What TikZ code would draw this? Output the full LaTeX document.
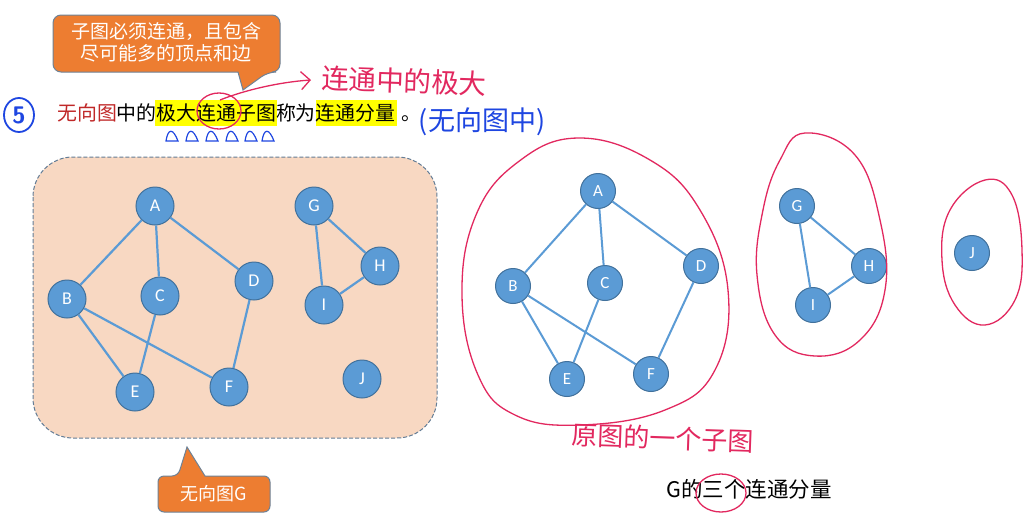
\documentclass[tikz,border=0pt]{standalone}
\usepackage{fontspec}
\setmainfont{Carlito}
\newfontfamily\cjk{Noto Sans CJK SC}
\usetikzlibrary{arrows.meta,shapes.geometric}
\definecolor{nodefill}{RGB}{91,155,213}
\definecolor{nodeline}{RGB}{65,113,156}
\definecolor{peach}{RGB}{248,216,194}
\definecolor{boxline}{RGB}{100,125,150}
\definecolor{orangeC}{RGB}{237,125,49}
\definecolor{calloutline}{RGB}{110,130,150}
\definecolor{penred}{RGB}{226,40,95}
\definecolor{penblue}{RGB}{30,70,225}
\definecolor{darkred}{RGB}{192,40,40}
\definecolor{hl}{RGB}{255,255,0}
\tikzset{
  vtx/.style={circle, fill=nodefill, draw=nodeline, line width=1pt, minimum size=38pt, inner sep=0pt, text=white, font=\fontsize{18}{18}\selectfont},
  vtxs/.style={vtx, minimum size=35pt, font=\fontsize{17}{17}\selectfont},
  gedge/.style={draw=nodefill, line width=2.2pt},
  callout/.style={fill=orangeC, draw=calloutline, line width=1pt},
  callouttext/.style={text=white, font=\cjk\fontsize{19}{19}\selectfont, inner sep=0pt},
  redpen/.style={draw=penred, line width=1.3pt},
  bluepen/.style={draw=penblue, line width=1.8pt},
}
\begin{document}
\begin{tikzpicture}[x=1pt,y=-1pt]
\useasboundingbox[fill=white] (0,0) rectangle (1026,520);

% ---- top callout
\draw[callout, rounded corners=8pt] (150,15) -- (280,15) -- (280,72) -- (268,72) [sharp corners] -- (243,90) -- (238,72) [rounded corners=8pt] -- (53,72) -- (53,15) -- cycle;
\node[callouttext] (c1) at (166,31) {子图必须连通，且包含};
\node[callouttext] (c2) at (166,53) {尽可能多的顶点和边};

% ---- circled 5
\node[bluepen, ellipse, draw, minimum width=30pt, minimum height=34pt, inner sep=0pt, text=penblue, font=\sffamily\bfseries\fontsize{24}{24}\selectfont] (five) at (19,115) {5};

% ---- main sentence
\fill[hl] (155,100) rectangle (277,126);
\fill[hl] (316,100) rectangle (397,126);
\node[anchor=base west, inner sep=0pt, font=\cjk\fontsize{19.9}{20}\selectfont] (def) at (57,120) {{\color{darkred}无向图}中的极大连通子图称为连通分量};
\node[anchor=base, inner sep=0pt, font=\cjk\fontsize{19.9}{20}\selectfont] (stop) at (411,120) {。};

% emphasis marks
\foreach \x in {166,186,206,226,245,262}
  \draw[bluepen, line width=1.2pt] (\x,141) .. controls (\x+2,128) and (\x+7,128) .. (\x+12,141) -- cycle;

% circle around 连通 and arrow
\draw[redpen] (219,111) ellipse [x radius=22pt, y radius=18pt];
\coordinate (arrs) at (220,100);
\coordinate (arre) at (311,80);
\draw[redpen, -{Straight Barb[length=9pt,width=18pt]}] (arrs) .. controls (245,90) and (280,82) .. (arre);
\node[text=penred, font=\cjk\fontsize{27.5}{27.5}\selectfont, inner sep=0pt, rotate=-2] (note1) at (404,81) {连通中的极大};
\node[text=penblue, font=\cjk\fontsize{27}{27}\selectfont, inner sep=0pt] (note2) at (482,122) {(无向图中)};

% ---- left graph box
\draw[boxline, fill=peach, line width=1pt, dash pattern=on 4pt off 2pt, rounded corners=40pt] (33,157) rectangle (437,438);

\node[vtx] (A) at (155,206) {A};
\node[vtx] (B) at (67,299) {B};
\node[vtx] (C) at (160,296) {C};
\node[vtx] (D) at (254,281) {D};
\node[vtx] (E) at (135,392) {E};
\node[vtx] (F) at (229,387) {F};
\node[vtx] (G) at (314,206) {G};
\node[vtx] (H) at (380,266) {H};
\node[vtx] (I) at (324,305) {I};
\node[vtx] (J) at (362,379) {J};
\path[gedge] (A) -- (B) (A) -- (C) (A) -- (D) (B) -- (E) (B) -- (F) (C) -- (E) (D) -- (F) (G) -- (H) (G) -- (I) (H) -- (I);

% ---- bottom callout
\draw[callout, rounded corners=6pt] (230,476) -- (270,476) -- (270,512) -- (158,512) -- (158,476) -- (178,476) [sharp corners] -- (187,447) -- (205,476) [rounded corners=6pt] -- cycle;
\node[callouttext, font=\cjk\fontsize{18}{18}\selectfont] (cg) at (214,494) {无向图G};

% ---- right graph
\node[vtxs] (rA) at (598,191) {A};
\node[vtxs] (rB) at (513,286) {B};
\node[vtxs] (rC) at (605,283) {C};
\node[vtxs] (rD) at (701,266) {D};
\node[vtxs] (rE) at (567,379) {E};
\node[vtxs] (rF) at (651,374) {F};
\node[vtxs] (rG) at (797,206) {G};
\node[vtxs] (rH) at (869,266) {H};
\node[vtxs] (rI) at (813,305) {I};
\node[vtxs] (rJ) at (972,253) {J};
\path[gedge, line width=2pt] (rA) -- (rB) (rA) -- (rC) (rA) -- (rD) (rB) -- (rE) (rB) -- (rF) (rC) -- (rE) (rD) -- (rF) (rG) -- (rH) (rG) -- (rI) (rH) -- (rI);

% red loops
\draw[redpen] plot[smooth cycle, tension=0.7] coordinates {(578,138) (650,160) (700,210) (728,290) (715,370) (665,410) (580,425) (515,415) (478,375) (462,295) (476,215) (518,162)};
\draw[redpen] plot[smooth cycle, tension=0.7] coordinates {(805,133) (855,155) (880,220) (885,290) (860,340) (815,356) (775,335) (757,275) (763,210) (780,160)};
\draw[redpen] plot[smooth cycle, tension=0.7] coordinates {(985,180) (1012,195) (1022,250) (1015,300) (985,325) (955,305) (942,260) (950,210)};

\node[text=penred, font=\cjk\fontsize{26}{26}\selectfont, inner sep=0pt, rotate=-2] (note3) at (663,438) {原图的一个子图};

% ---- bottom caption
\node[inner sep=0pt, font=\cjk\fontsize{21.5}{22}\selectfont] (cap) at (749,489) {G的三个连通分量};
\draw[redpen] (721,493) ellipse [x radius=25pt, y radius=19pt];
\end{tikzpicture}
\end{document}
